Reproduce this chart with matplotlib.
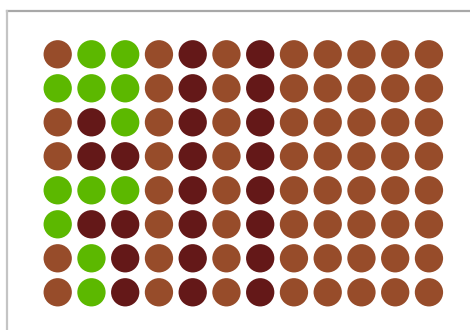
import numpy as np
import matplotlib.pyplot as plt
from matplotlib.lines import Line2D

# =========================================================
# DATA  (B = brown, D = dark red, G = green)
# =========================================================

row_1 = list("BGGBDBDBBBBB")
row_2 = list("GGGBDBDBBBBB")
row_3 = list("BDGBDBDBBBBB")
row_4 = list("BDDBDBDBBBBB")
row_5 = list("GGGBDBDBBBBB")
row_6 = list("GDDBDBDBBBBB")
row_7 = list("BGDBDBDBBBBB")
row_8 = list("BGDBDBDBBBBB")

rows = [row_1, row_2, row_3, row_4, row_5, row_6, row_7, row_8]

palette = {
    "B": "#974c2a",
    "D": "#641818",
    "G": "#5cb800",
}

# =========================================================
# FIGURE
# =========================================================

W, H = 470, 330
fig = plt.figure(figsize=(W / 100, H / 100), dpi=100)
fig.patch.set_facecolor("white")

# frame lines (top and left)
fig.add_artist(Line2D([7 / W, 1], [1 - 10.5 / H, 1 - 10.5 / H],
                      color="#a8a8a8", lw=1.6, transform=fig.transFigure))
fig.add_artist(Line2D([7 / W, 7 / W], [0, 1 - 10.5 / H],
                      color="#c4c4c4", lw=1.6, transform=fig.transFigure))

n_rows = len(rows)
n_cols = len(rows[0])

dx = 33.75
dy = 34.0
left = 57.7 - dx / 2
top = 54.3 - dy / 2

ax = fig.add_axes([left / W, 1 - (top + n_rows * dy) / H,
                   n_cols * dx / W, n_rows * dy / H])

xs, ys, cs = [], [], []
for r, row in enumerate(rows):
    for c, code in enumerate(row):
        xs.append(c)
        ys.append(r)
        cs.append(palette[code])

ax.scatter(xs, ys, s=415, c=cs, linewidths=0)

ax.set_xlim(-0.5, n_cols - 0.5)
ax.set_ylim(n_rows - 0.5, -0.5)
ax.axis("off")

fig.savefig("out.png", dpi=100)
